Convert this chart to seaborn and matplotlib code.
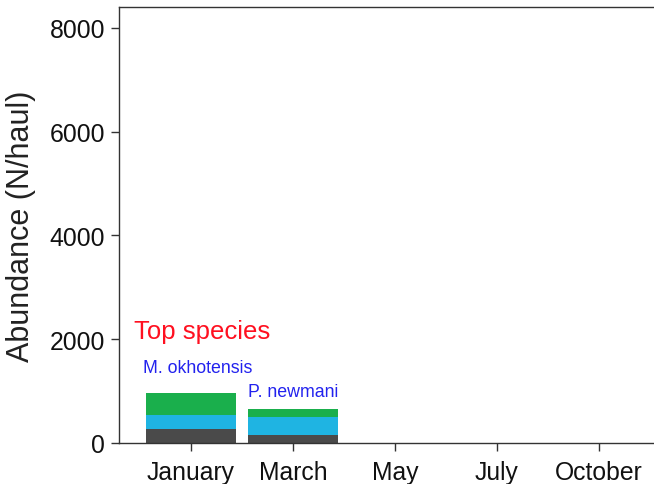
import matplotlib
matplotlib.use("Agg")
import matplotlib.pyplot as plt
import seaborn as sns
import pandas as pd
import numpy as np

months = ["January", "March", "May", "July", "October"]
dark_vals = [270, 150, 0, 0, 0]
cyan_vals = [270, 360, 0, 0, 0]
green_vals = [424, 150, 0, 0, 0]
top_labels = ["M. okhotensis", "P. newmani"]

sns.set_theme(style="ticks")
plt.rcParams['font.family'] = ['Liberation Sans', 'DejaVu Sans']

df = pd.DataFrame({"month": months, "dark": dark_vals, "cyan": cyan_vals, "green": green_vals})
df["c2"] = df["dark"] + df["cyan"]
df["c3"] = df["c2"] + df["green"]

fig = plt.figure(figsize=(6.54, 4.85), dpi=100)
ax = fig.add_axes([119/654, (485-444)/485, (654-119)/654 + 0.01, (444-8)/485])

w = 0.89
sns.barplot(data=df, x="month", y="c3", order=months, color="#1aaf4c", width=w, ax=ax, saturation=1, edgecolor="none")
sns.barplot(data=df, x="month", y="c2", order=months, color="#1fb4e2", width=w, ax=ax, saturation=1, edgecolor="none")
sns.barplot(data=df, x="month", y="dark", order=months, color="#4a4a4a", width=w, ax=ax, saturation=1, edgecolor="none")

ax.set_xlim(-0.705, 4.605)
ax.set_ylim(0, 8400)
ax.set_yticks([0, 2000, 4000, 6000, 8000])
ax.set_xlabel("")
ax.set_ylabel("Abundance (N/haul)", fontsize=22, color="#222222", labelpad=10)
ax.tick_params(axis="both", labelsize=17.8, length=6, width=1, colors="#333333", labelcolor="#111111")
ax.tick_params(axis="x", pad=6)
ax.tick_params(axis="y", pad=4)
for s in ["left", "bottom", "top"]:
    ax.spines[s].set_visible(True)
    ax.spines[s].set_color("#333333")
    ax.spines[s].set_linewidth(1)
ax.spines["right"].set_visible(False)

ax.text(-0.56, 2160, "Top species", color="#ff1020", fontsize=18.5, ha="left", va="center")
label_pos = [(-0.47, 1446), (0.56, 983)]
for lab, (lx, ly) in zip(top_labels, label_pos):
    ax.text(lx, ly, lab, color="#2222ee", fontsize=12.8, ha="left", va="center")

fig.savefig("out.png", dpi=100)
